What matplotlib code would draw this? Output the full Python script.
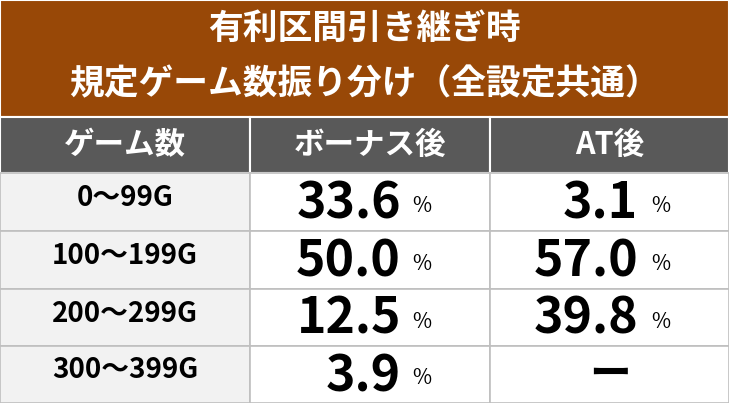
import matplotlib
matplotlib.use("Agg")
import matplotlib.pyplot as plt
from matplotlib.patches import Rectangle

plt.rcParams['font.family'] = ['Noto Sans CJK JP', 'DejaVu Sans']

title_lines = ["有利区間引き継ぎ時", "規定ゲーム数振り分け（全設定共通）"]
headers = ["ゲーム数", "ボーナス後", "AT後"]
games = ["0～99G", "100～199G", "200～299G", "300～399G"]
bonus = ["33.6", "50.0", "12.5", "3.9"]
at = ["3.1", "57.0", "39.8", None]

W, H = 729, 403
fig = plt.figure(figsize=(W/100, H/100), dpi=100)
ax = fig.add_axes([0, 0, 1, 1])
ax.set_xlim(0, W); ax.set_ylim(H, 0); ax.axis('off')

cols = [0, 250, 490, 729]
ax.add_patch(Rectangle((0, 0), W, 117, color='#984807', ec='white', lw=1.5))
ax.text(W/2, 28, title_lines[0], color='white', fontsize=25, fontweight='bold', ha='center', va='center')
ax.text(W/2, 84, title_lines[1], color='white', fontsize=25, fontweight='bold', ha='center', va='center')

ys = [117, 173, 231, 289, 346, 403]
for i, h in enumerate(headers):
    ax.add_patch(Rectangle((cols[i], ys[0]), cols[i+1]-cols[i], ys[1]-ys[0], fc='#595959', ec='white', lw=1.5))
    ax.text((cols[i]+cols[i+1])/2, (ys[0]+ys[1])/2, h, color='white', fontsize=22, fontweight='bold', ha='center', va='center')

for r in range(4):
    y0, y1 = ys[r+1], ys[r+2]
    yc = (y0+y1)/2
    for c in range(3):
        fc = '#f2f2f2' if c == 0 else 'white'
        ax.add_patch(Rectangle((cols[c], y0), cols[c+1]-cols[c], y1-y0, fc=fc, ec='#bfbfbf', lw=1.2))
    ax.text(125, yc - 4, games[r], fontsize=20, fontweight='bold', ha='center', va='center', color='black')
    ax.text(401, yc + 2, bonus[r], fontsize=36, fontweight='bold', ha='right', va='center', color='black')
    ax.text(412, yc + 4, "%", fontsize=15, ha='left', va='center', color='black')
    if at[r] is not None:
        ax.text(638, yc + 2, at[r], fontsize=36, fontweight='bold', ha='right', va='center', color='black')
        ax.text(651, yc + 4, "%", fontsize=15, ha='left', va='center', color='black')
    else:
        ax.text(610, yc, "ー", fontsize=30, fontweight='bold', ha='center', va='center', color='black')

fig.savefig("out.png", dpi=100)
